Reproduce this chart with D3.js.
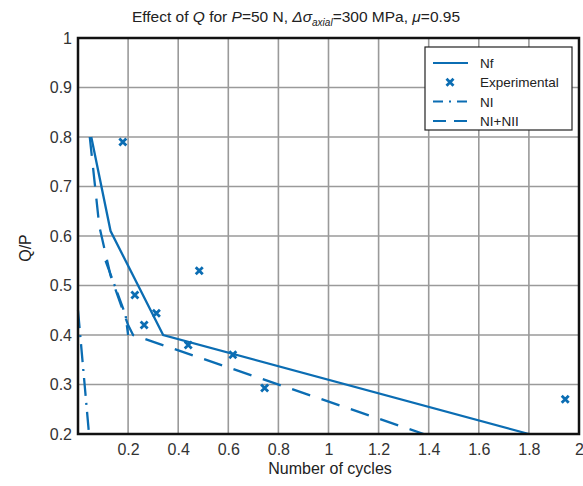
<!DOCTYPE html>
<html>
<head>
<meta charset="utf-8">
<script src="https://cdn.jsdelivr.net/npm/d3@7"></script>
<style>
  html, body { margin: 0; padding: 0; background: #fff; }
  svg { display: block; font-family: "Liberation Sans", Arial, sans-serif; }
</style>
</head>
<body>
<svg id="chart" width="583" height="486"></svg>
<script>
// Fatigue life curves vs. normalised tangential load
const xTicks = [0.2, 0.4, 0.6, 0.8, 1, 1.2, 1.4, 1.6, 1.8, 2];
const yTicks = [0.2, 0.3, 0.4, 0.5, 0.6, 0.7, 0.8, 0.9, 1];

// Nf (total life)
const nfCycles = [0.053, 0.13, 0.34, 1.80];
const nfQP     = [0.80, 0.61, 0.40, 0.20];

// NI+NII
const n12Cycles = [0.047, 0.085, 0.13, 0.20, 0.22, 1.38];
const n12QP     = [0.80, 0.62, 0.52, 0.42, 0.40, 0.20];

// NI (two branches, null separates them)
const n1Cycles = [0.000, 0.044, null, 0.11, 0.19, 0.20];
const n1QP     = [0.45, 0.20, null, 0.55, 0.44, 0.40];

// Experimental results
const expCycles = [0.179, 0.227, 0.264, 0.313, 0.44, 0.484, 0.618, 0.745, 1.945];
const expQP     = [0.79, 0.481, 0.42, 0.444, 0.38, 0.53, 0.36, 0.293, 0.27];

const blue = "#0b6db3";
const svg = d3.select("#chart");
const mLeft = 78, mRight = 579, mTop = 38, mBottom = 434;

const x = d3.scaleLinear().domain([0, 2]).range([mLeft, mRight]);
const y = d3.scaleLinear().domain([0.2, 1]).range([mBottom, mTop]);

// grid
const grid = svg.append("g");
grid.selectAll("line.v").data(xTicks.filter(d => d < 2)).join("line")
  .attr("x1", d => x(d)).attr("x2", d => x(d))
  .attr("y1", mTop).attr("y2", mBottom)
  .attr("stroke", "#9a9a9a").attr("stroke-width", 1.6);
grid.selectAll("line.h").data(yTicks.filter(d => d > 0.2 && d < 1)).join("line")
  .attr("x1", mLeft).attr("x2", mRight)
  .attr("y1", d => y(d)).attr("y2", d => y(d))
  .attr("stroke", "#9a9a9a").attr("stroke-width", 1.6);

// axes (labels only, frame drawn separately)
const xAxis = d3.axisBottom(x).tickValues(xTicks).tickSize(0).tickPadding(10)
  .tickFormat(d => d3.format("~g")(d));
const gx = svg.append("g").attr("transform", `translate(0,${mBottom})`).call(xAxis);
gx.select(".domain").remove();
gx.selectAll("text").attr("font-size", 16).attr("fill", "#333")
  .attr("font-family", "Liberation Sans, Arial, sans-serif");

const yAxis = d3.axisLeft(y).tickValues(yTicks).tickSize(0).tickPadding(6)
  .tickFormat(d => d3.format("~g")(d));
const gy = svg.append("g").attr("transform", `translate(${mLeft},0)`).call(yAxis);
gy.select(".domain").remove();
gy.selectAll("text").attr("font-size", 16).attr("fill", "#333")
  .attr("font-family", "Liberation Sans, Arial, sans-serif");

// curves
const pts = (xs, ys) => xs.map((v, i) => [v, ys[i]]);
const line = d3.line()
  .defined(d => d[0] !== null && d[1] !== null)
  .x(d => x(d[0])).y(d => y(d[1]));

const plot = svg.append("g");
plot.append("path").datum(pts(n1Cycles, n1QP)).attr("d", line)
  .attr("fill", "none").attr("stroke", blue).attr("stroke-width", 2.3)
  .attr("stroke-dasharray", "18 7 2 7");
plot.append("path").datum(pts(n12Cycles, n12QP)).attr("d", line)
  .attr("fill", "none").attr("stroke", blue).attr("stroke-width", 2.3)
  .attr("stroke-dasharray", "19 12");
plot.append("path").datum(pts(nfCycles, nfQP)).attr("d", line)
  .attr("fill", "none").attr("stroke", blue).attr("stroke-width", 2.3);

// experimental markers
const m = 3.5;
plot.selectAll("path.exp").data(pts(expCycles, expQP)).join("path")
  .attr("d", d => {
    const cx = x(d[0]), cy = y(d[1]);
    return `M${cx - m},${cy - m}L${cx + m},${cy + m}M${cx - m},${cy + m}L${cx + m},${cy - m}`;
  })
  .attr("stroke", blue).attr("stroke-width", 2.8).attr("fill", "none");

// frame
svg.append("rect").attr("x", mLeft).attr("y", mTop)
  .attr("width", mRight - mLeft).attr("height", mBottom - mTop)
  .attr("fill", "none").attr("stroke", "#111").attr("stroke-width", 2.5);

// title
const title = svg.append("text").attr("x", 296).attr("y", 22)
  .attr("text-anchor", "middle").attr("font-size", 15.5).attr("fill", "#222");
title.append("tspan").text("Effect of ");
title.append("tspan").attr("font-style", "italic").text("Q");
title.append("tspan").text(" for ");
title.append("tspan").attr("font-style", "italic").text("P");
title.append("tspan").text("=50 N, ");
title.append("tspan").attr("font-style", "italic").text("Δσ");
title.append("tspan").attr("font-style", "italic").attr("font-size", 10).attr("dy", 4).text("axial");
title.append("tspan").attr("dy", -4).text("=300 MPa, ");
title.append("tspan").attr("font-style", "italic").text("μ");
title.append("tspan").text("=0.95");

// axis titles
svg.append("text").attr("x", 330).attr("y", 474).attr("text-anchor", "middle")
  .attr("font-size", 16).attr("fill", "#222").text("Number of cycles");
svg.append("text").attr("transform", "translate(31,248) rotate(-90)")
  .attr("text-anchor", "middle").attr("font-size", 16).attr("fill", "#222").text("Q/P");

// legend
const legendItems = [
  { label: "Nf", type: "solid" },
  { label: "Experimental", type: "marker" },
  { label: "NI", type: "dashdot" },
  { label: "NI+NII", type: "dash" }
];
const lg = svg.append("g");
lg.append("rect").attr("x", 425).attr("y", 47).attr("width", 147).attr("height", 83)
  .attr("fill", "#fff").attr("stroke", "#222").attr("stroke-width", 1.2);
legendItems.forEach((it, i) => {
  const ly = 63 + i * 19.3;
  if (it.type === "marker") {
    const cx = 450;
    lg.append("path")
      .attr("d", `M${cx - m},${ly - m}L${cx + m},${ly + m}M${cx - m},${ly + m}L${cx + m},${ly - m}`)
      .attr("stroke", blue).attr("stroke-width", 2.8);
  } else {
    const p = lg.append("line").attr("x1", 433).attr("x2", 468)
      .attr("y1", ly).attr("y2", ly).attr("stroke", blue).attr("stroke-width", 2);
    if (it.type === "dashdot") p.attr("stroke-dasharray", "10 6 2 6");
    if (it.type === "dash") p.attr("stroke-dasharray", "13 8");
  }
  lg.append("text").attr("x", 480).attr("y", ly + 5).attr("font-size", 13.5)
    .attr("fill", "#222").text(it.label);
});
</script>
</body>
</html>
